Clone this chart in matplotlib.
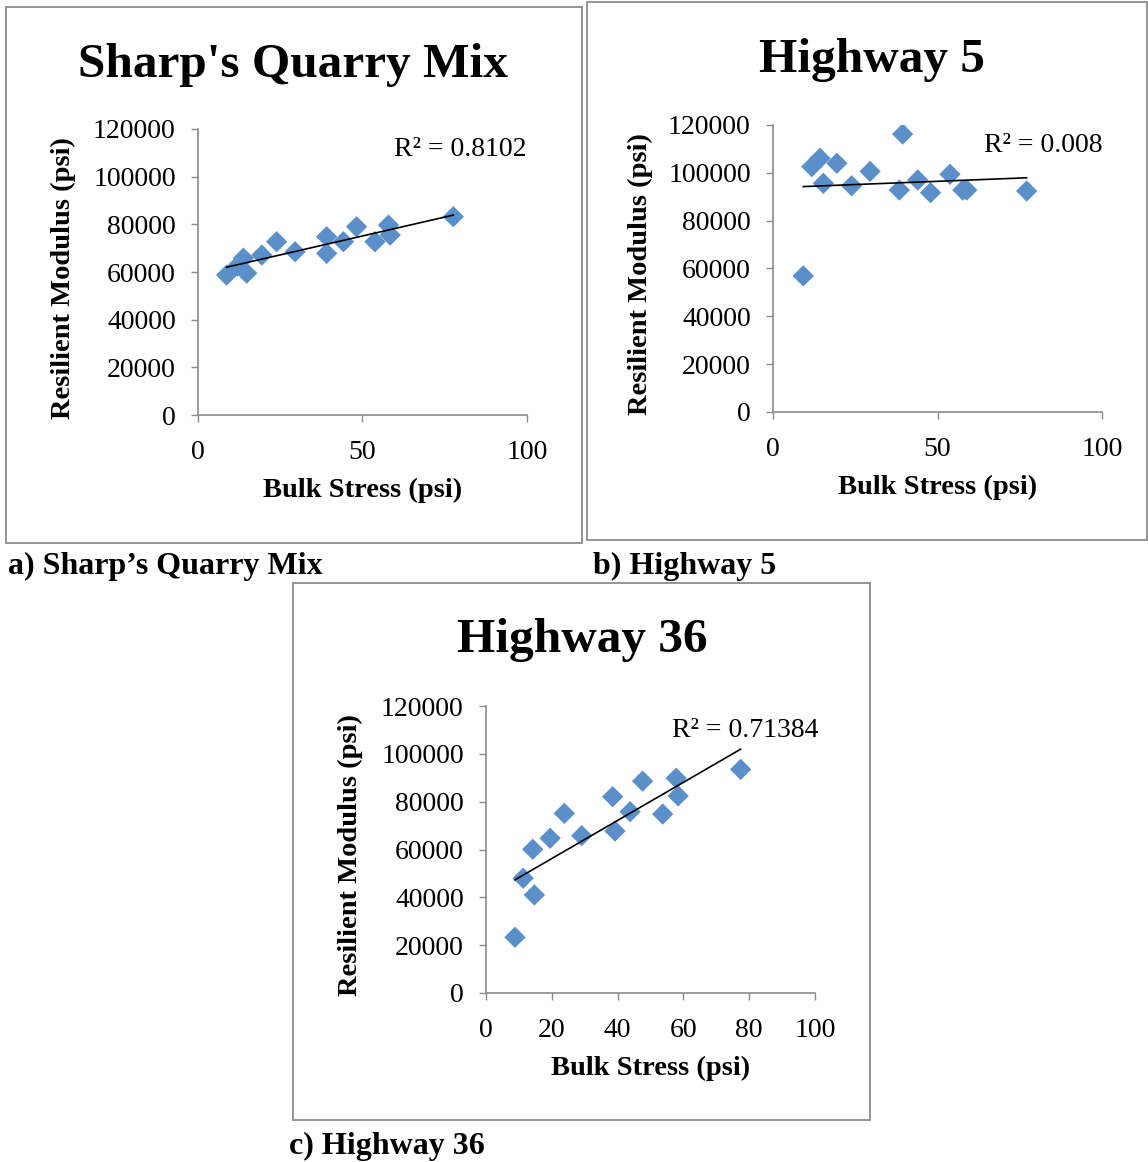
import numpy as np
import matplotlib
matplotlib.use("Agg")
import matplotlib.pyplot as plt
from matplotlib.patches import Rectangle

# ================================
# Data
# ================================
sharp_x = [8.7, 12.0, 13.8, 14.8, 19.4, 23.9, 29.5, 39.1, 39.1, 44.2, 48.2, 53.8, 57.9, 58.4, 77.6]
sharp_y = [58700, 62500, 65800, 59500, 67100, 72700, 68500, 74800, 67800, 72700, 79000, 72700, 79700, 75500, 83200]
sharp_r2 = "0.8102"

hw5_x = [9.2, 11.8, 14.3, 19.4, 15.3, 23.9, 29.5, 39.4, 38.4, 44.0, 47.9, 53.8, 57.7, 58.9, 77.1]
hw5_y = [56900, 102600, 106100, 104000, 95600, 94600, 100600, 116200, 92800, 97000, 91700, 99400, 92800, 92800, 92400]
hw5_r2 = "0.008"

hw36_x = [8.8, 11.3, 14.7, 14.2, 19.5, 23.8, 29.1, 38.5, 39.2, 43.8, 47.6, 53.7, 57.8, 58.4, 77.4]
hw36_y = [23300, 48000, 41000, 60100, 64700, 75100, 65800, 82100, 67700, 75800, 88600, 74800, 89800, 82400, 93500]
hw36_r2 = "0.71384"

# ================================
# Style
# ================================
SERIF   = "Liberation Serif"
BLUE    = "#5B8FC9"
GREY    = "#8C8C8C"
TICK_FS = 20
LAB_FS  = 20.5

fig = plt.figure(figsize=(11.48, 11.62), dpi=100)


def panel(rect, xs, ys, r2, xticks, title, title_xy, box, r2_xy, ylab_x):
    ax = fig.add_axes(rect)
    ax.scatter(xs, ys, marker="D", s=118, color=BLUE, edgecolors="none", zorder=3)
    slope, icpt = np.polyfit(xs, ys, 1)
    xl = np.array([min(xs), max(xs)])
    ax.plot(xl, slope * xl + icpt, color="black", lw=1.2, zorder=4)

    ax.set_xlim(0, 100)
    ax.set_ylim(0, 120000)
    ax.set_xticks(xticks)
    ax.set_yticks(np.arange(0, 120001, 20000))
    ax.set_xticklabels([str(t) for t in xticks], family=SERIF, fontsize=TICK_FS)
    ax.set_yticklabels([str(t) for t in range(0, 120001, 20000)], family=SERIF, fontsize=TICK_FS)
    ax.tick_params(axis="both", direction="out", length=5, width=1, color=GREY)
    ax.tick_params(axis="x", pad=13)
    ax.tick_params(axis="y", pad=11)
    for s in ("top", "right"):
        ax.spines[s].set_visible(False)
    for s in ("left", "bottom"):
        ax.spines[s].set_color(GREY)
        ax.spines[s].set_linewidth(1.2)

    ax.text(0.5, -0.262, "Bulk Stress (psi)", transform=ax.transAxes, ha="center", va="center",
            family=SERIF, fontsize=LAB_FS, fontweight="bold")
    ax.text(ylab_x, 0.48, "Resilient Modulus (psi)", transform=ax.transAxes, ha="center", va="center",
            rotation=90, family=SERIF, fontsize=LAB_FS, fontweight="bold")
    ax.text(r2_xy[0], r2_xy[1], f"R\u00b2 = {r2}", transform=ax.transAxes, ha="right", va="center",
            family=SERIF, fontsize=TICK_FS)

    fig.text(title_xy[0], title_xy[1], title, ha="center", va="center",
             family=SERIF, fontsize=35.5, fontweight="bold")

    x0, y0, x1, y1 = box
    fig.patches.append(Rectangle((x0 / 1148, 1 - y1 / 1162), (x1 - x0) / 1148, (y1 - y0) / 1162,
                                 transform=fig.transFigure, fill=False, edgecolor=GREY, lw=1.3))
    return ax


panel([198 / 1148, 1 - 415 / 1162, 329 / 1148, 286 / 1162], sharp_x, sharp_y, sharp_r2,
      [0, 50, 100], "Sharp's Quarry Mix", (293 / 1148, 1 - 65 / 1162),
      (6, 7, 582, 543), (1.0, 0.93), -0.41)

panel([773 / 1148, 1 - 412 / 1162, 329 / 1148, 287 / 1162], hw5_x, hw5_y, hw5_r2,
      [0, 50, 100], "Highway 5", (872 / 1148, 1 - 60 / 1162),
      (587, 2, 1147, 540), (1.0, 0.93), -0.404)

panel([486 / 1148, 1 - 993 / 1162, 329 / 1148, 287 / 1162], hw36_x, hw36_y, hw36_r2,
      [0, 20, 40, 60, 80, 100], "Highway 36", (582 / 1148, 1 - 640 / 1162),
      (293, 583, 870, 1120), (1.01, 0.916), -0.413)

# captions under each panel
cap_kw = dict(family=SERIF, fontsize=23, fontweight="bold", ha="left", va="center")
fig.text(8 / 1148, 1 - 566 / 1162, "a) Sharp\u2019s Quarry Mix", **cap_kw)
fig.text(593 / 1148, 1 - 566 / 1162, "b) Highway 5", **cap_kw)
fig.text(289 / 1148, 1 - 1146 / 1162, "c) Highway 36", **cap_kw)

fig.savefig("out.png", dpi=100)
